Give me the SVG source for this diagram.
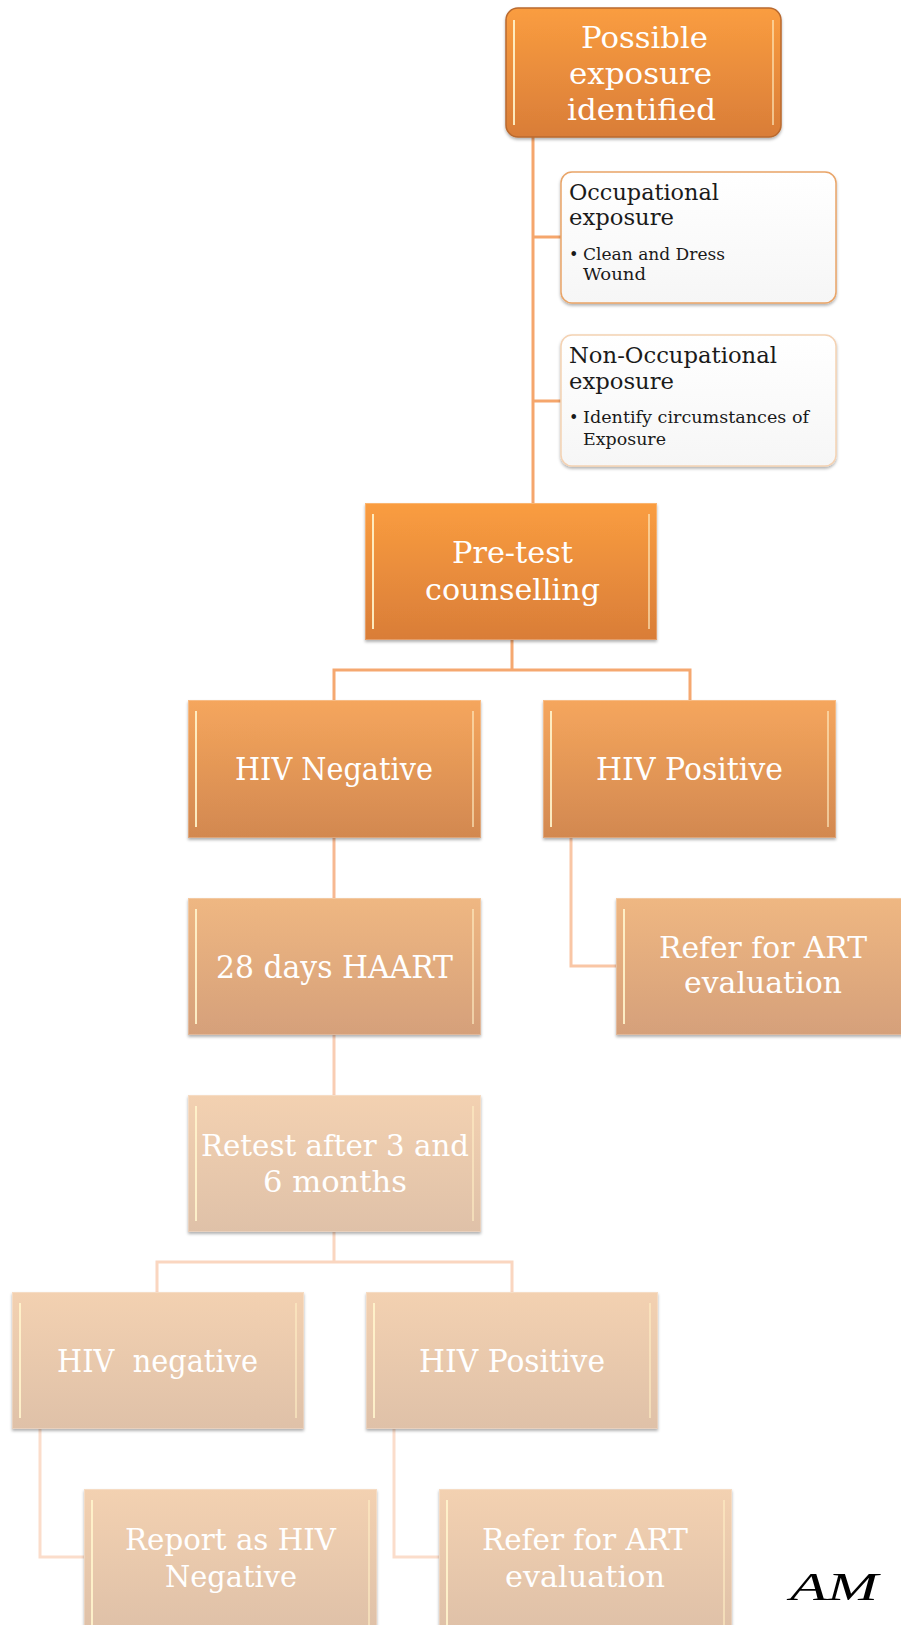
<svg xmlns="http://www.w3.org/2000/svg" width="901" height="1625" viewBox="0 0 901 1625">
  <defs>
    <linearGradient id="g1" x1="0" y1="0" x2="0" y2="1">
      <stop offset="0" stop-color="#FA9D40"/>
      <stop offset="1" stop-color="#D97D38"/>
    </linearGradient>
    <linearGradient id="g2" x1="0" y1="0" x2="0" y2="1">
      <stop offset="0" stop-color="#F5A65D"/>
      <stop offset="1" stop-color="#D28850"/>
    </linearGradient>
    <linearGradient id="g3" x1="0" y1="0" x2="0" y2="1">
      <stop offset="0" stop-color="#EFB782"/>
      <stop offset="1" stop-color="#D5A07A"/>
    </linearGradient>
    <linearGradient id="g4" x1="0" y1="0" x2="0" y2="1">
      <stop offset="0" stop-color="#F3D1B1"/>
      <stop offset="1" stop-color="#DFC1A8"/>
    </linearGradient>
    <linearGradient id="gw" x1="0" y1="0" x2="0" y2="1">
      <stop offset="0" stop-color="#FFFFFF"/>
      <stop offset="1" stop-color="#F6F6F6"/>
    </linearGradient>
    <filter id="sh" x="-10%" y="-10%" width="120%" height="125%">
      <feDropShadow dx="0" dy="2" stdDeviation="1.6" flood-color="#000" flood-opacity="0.3"/>
    </filter>
  </defs>
  <style>
    .t { font-family: "DejaVu Serif", "Liberation Serif", serif; fill: #FFFFFF; white-space: pre; }
    .d { font-family: "DejaVu Serif", "Liberation Serif", serif; fill: #1A1A1A; }
    .hl { stroke: #FFF4CC; stroke-width: 2; fill: none; opacity: 0.9; }
    .hr { stroke: #FFEFC4; stroke-width: 2; fill: none; opacity: 0.6; }
    .edge { fill: none; stroke: #FFFFFF; stroke-opacity: 0.25; stroke-width: 1; }
    .c { fill: none; stroke-width: 3; }
  </style>
  <rect width="901" height="1625" fill="#FFFFFF"/>

  <!-- connectors -->
  <g id="connectors">
    <path class="c" stroke="#F5A66C" d="M533 137 V503 M533 237 H561 M533 401 H561"/>
    <path class="c" stroke="#F5A870" d="M512 640 V670 M334 700 V670 H690 V700"/>
    <path class="c" stroke="#F7B891" d="M334 838 V898"/>
    <path class="c" stroke="#F9C6A5" d="M571 838 V966 H616"/>
    <path class="c" stroke="#F9CDB3" d="M334 1035 V1095"/>
    <path class="c" stroke="#FAD6C0" d="M334 1232 V1262 M157 1292 V1262 H512 V1292"/>
    <path class="c" stroke="#FBDDCB" d="M40 1429 V1557 H84 M394 1429 V1557 H439"/>
  </g>

  <!-- possible exposure -->
  <g id="possible-exposure">
    <rect x="506" y="8" width="275" height="129" rx="12" fill="url(#g1)" stroke="#B9692E" stroke-width="1.5" filter="url(#sh)"/>
    <line class="hl" x1="514" y1="20" x2="514" y2="125"/>
    <line class="hr" x1="773" y1="20" x2="773" y2="125"/>
    <text class="t" font-size="29" x="581" y="48" textLength="127" lengthAdjust="spacingAndGlyphs">Possible</text>
    <text class="t" font-size="29" x="569" y="84" textLength="143" lengthAdjust="spacingAndGlyphs">exposure</text>
    <text class="t" font-size="29" x="567" y="120" textLength="149" lengthAdjust="spacingAndGlyphs">identified</text>
  </g>

  <!-- occupational exposure -->
  <g id="occupational">
    <rect x="561" y="172" width="275" height="131" rx="11" fill="url(#gw)" stroke="#E9A467" stroke-width="1.5" filter="url(#sh)"/>
    <text class="d" font-size="23" x="569" y="200" textLength="150" lengthAdjust="spacingAndGlyphs">Occupational</text>
    <text class="d" font-size="23" x="569" y="225" textLength="105" lengthAdjust="spacingAndGlyphs">exposure</text>
    <text class="d" font-size="16" x="569" y="260">•</text>
    <text class="d" font-size="16" x="583" y="260" textLength="142" lengthAdjust="spacingAndGlyphs">Clean and Dress</text>
    <text class="d" font-size="16" x="583" y="280" textLength="63" lengthAdjust="spacingAndGlyphs">Wound</text>
  </g>

  <!-- non-occupational exposure -->
  <g id="non-occupational">
    <rect x="561" y="335" width="275" height="131" rx="11" fill="url(#gw)" stroke="#F4D2B3" stroke-width="1.5" filter="url(#sh)"/>
    <text class="d" font-size="23" x="569" y="363" textLength="208" lengthAdjust="spacingAndGlyphs">Non-Occupational</text>
    <text class="d" font-size="23" x="569" y="389" textLength="105" lengthAdjust="spacingAndGlyphs">exposure</text>
    <text class="d" font-size="16" x="569" y="423">•</text>
    <text class="d" font-size="16" x="583" y="423" textLength="226" lengthAdjust="spacingAndGlyphs">Identify circumstances of</text>
    <text class="d" font-size="16" x="583" y="445" textLength="83" lengthAdjust="spacingAndGlyphs">Exposure</text>
  </g>

  <!-- pre-test counselling -->
  <g id="pre-test">
    <rect x="365" y="503" width="292" height="137" fill="url(#g1)" filter="url(#sh)"/>
    <rect class="edge" x="365.5" y="503.5" width="291" height="136"/>
    <line class="hl" x1="373" y1="514" x2="373" y2="629"/>
    <line class="hr" x1="649" y1="514" x2="649" y2="629"/>
    <text class="t" font-size="30" x="452" y="563" textLength="121" lengthAdjust="spacingAndGlyphs">Pre-test</text>
    <text class="t" font-size="30" x="425" y="600" textLength="175" lengthAdjust="spacingAndGlyphs">counselling</text>
  </g>

  <!-- HIV negative -->
  <g id="hiv-negative">
    <rect x="188" y="700" width="293" height="138" fill="url(#g2)" filter="url(#sh)"/>
    <rect class="edge" x="188.5" y="700.5" width="292" height="137"/>
    <line class="hl" x1="196" y1="711" x2="196" y2="827"/>
    <line class="hr" x1="473" y1="711" x2="473" y2="827"/>
    <text class="t" font-size="31" x="235" y="780" textLength="198" lengthAdjust="spacingAndGlyphs">HIV Negative</text>
  </g>

  <!-- HIV positive -->
  <g id="hiv-positive">
    <rect x="543" y="700" width="293" height="138" fill="url(#g2)" filter="url(#sh)"/>
    <rect class="edge" x="543.5" y="700.5" width="292" height="137"/>
    <line class="hl" x1="551" y1="711" x2="551" y2="827"/>
    <line class="hr" x1="828" y1="711" x2="828" y2="827"/>
    <text class="t" font-size="31" x="596" y="780" textLength="187" lengthAdjust="spacingAndGlyphs">HIV Positive</text>
  </g>

  <!-- 28 days HAART -->
  <g id="haart">
    <rect x="188" y="898" width="293" height="137" fill="url(#g3)" filter="url(#sh)"/>
    <rect class="edge" x="188.5" y="898.5" width="292" height="136"/>
    <line class="hl" x1="196" y1="909" x2="196" y2="1024"/>
    <line class="hr" x1="473" y1="909" x2="473" y2="1024"/>
    <text class="t" font-size="31" x="216" y="978" textLength="237" lengthAdjust="spacingAndGlyphs">28 days HAART</text>
  </g>

  <!-- refer for ART evaluation (first) -->
  <g id="refer-art-1">
    <rect x="616" y="898" width="293" height="137" fill="url(#g3)" filter="url(#sh)"/>
    <rect class="edge" x="616.5" y="898.5" width="292" height="136"/>
    <line class="hl" x1="624" y1="909" x2="624" y2="1024"/>
    <text class="t" font-size="30" x="659" y="958" textLength="208" lengthAdjust="spacingAndGlyphs">Refer for ART</text>
    <text class="t" font-size="30" x="684" y="993" textLength="158" lengthAdjust="spacingAndGlyphs">evaluation</text>
  </g>

  <!-- retest -->
  <g id="retest">
    <rect x="188" y="1095" width="293" height="137" fill="url(#g4)" filter="url(#sh)"/>
    <rect class="edge" x="188.5" y="1095.5" width="292" height="136"/>
    <line class="hl" x1="196" y1="1106" x2="196" y2="1221"/>
    <line class="hr" x1="473" y1="1106" x2="473" y2="1221"/>
    <text class="t" font-size="30" x="201" y="1156" textLength="268" lengthAdjust="spacingAndGlyphs">Retest after 3 and</text>
    <text class="t" font-size="30" x="263" y="1192" textLength="144" lengthAdjust="spacingAndGlyphs">6 months</text>
  </g>

  <!-- HIV negative (retest) -->
  <g id="hiv-negative-2">
    <rect x="12" y="1292" width="292" height="137" fill="url(#g4)" filter="url(#sh)"/>
    <rect class="edge" x="12.5" y="1292.5" width="291" height="136"/>
    <line class="hl" x1="20" y1="1303" x2="20" y2="1418"/>
    <line class="hr" x1="296" y1="1303" x2="296" y2="1418"/>
    <text class="t" font-size="31" x="57" y="1372" textLength="201" lengthAdjust="spacingAndGlyphs" xml:space="preserve">HIV  negative</text>
  </g>

  <!-- HIV positive (retest) -->
  <g id="hiv-positive-2">
    <rect x="366" y="1292" width="292" height="137" fill="url(#g4)" filter="url(#sh)"/>
    <rect class="edge" x="366.5" y="1292.5" width="291" height="136"/>
    <line class="hl" x1="374" y1="1303" x2="374" y2="1418"/>
    <line class="hr" x1="650" y1="1303" x2="650" y2="1418"/>
    <text class="t" font-size="31" x="419" y="1372" textLength="186" lengthAdjust="spacingAndGlyphs">HIV Positive</text>
  </g>

  <!-- report as HIV negative -->
  <g id="report-negative">
    <rect x="84" y="1489" width="293" height="140" fill="url(#g4)" filter="url(#sh)"/>
    <rect class="edge" x="84.5" y="1489.5" width="292" height="139"/>
    <line class="hl" x1="92" y1="1500" x2="92" y2="1625"/>
    <line class="hr" x1="369" y1="1500" x2="369" y2="1625"/>
    <text class="t" font-size="30" x="125" y="1550" textLength="211" lengthAdjust="spacingAndGlyphs">Report as HIV</text>
    <text class="t" font-size="30" x="165" y="1587" textLength="132" lengthAdjust="spacingAndGlyphs">Negative</text>
  </g>

  <!-- refer for ART evaluation (second) -->
  <g id="refer-art-2">
    <rect x="439" y="1489" width="293" height="140" fill="url(#g4)" filter="url(#sh)"/>
    <rect class="edge" x="439.5" y="1489.5" width="292" height="139"/>
    <line class="hl" x1="447" y1="1500" x2="447" y2="1625"/>
    <line class="hr" x1="724" y1="1500" x2="724" y2="1625"/>
    <text class="t" font-size="30" x="482" y="1550" textLength="206" lengthAdjust="spacingAndGlyphs">Refer for ART</text>
    <text class="t" font-size="30" x="505" y="1587" textLength="160" lengthAdjust="spacingAndGlyphs">evaluation</text>
  </g>

  <!-- author mark -->
  <g id="signature">
    <text x="790" y="1600" font-family="Liberation Serif, serif" font-style="italic" font-size="40" fill="#000000" textLength="88" lengthAdjust="spacingAndGlyphs">AM</text>
  </g>
</svg>
